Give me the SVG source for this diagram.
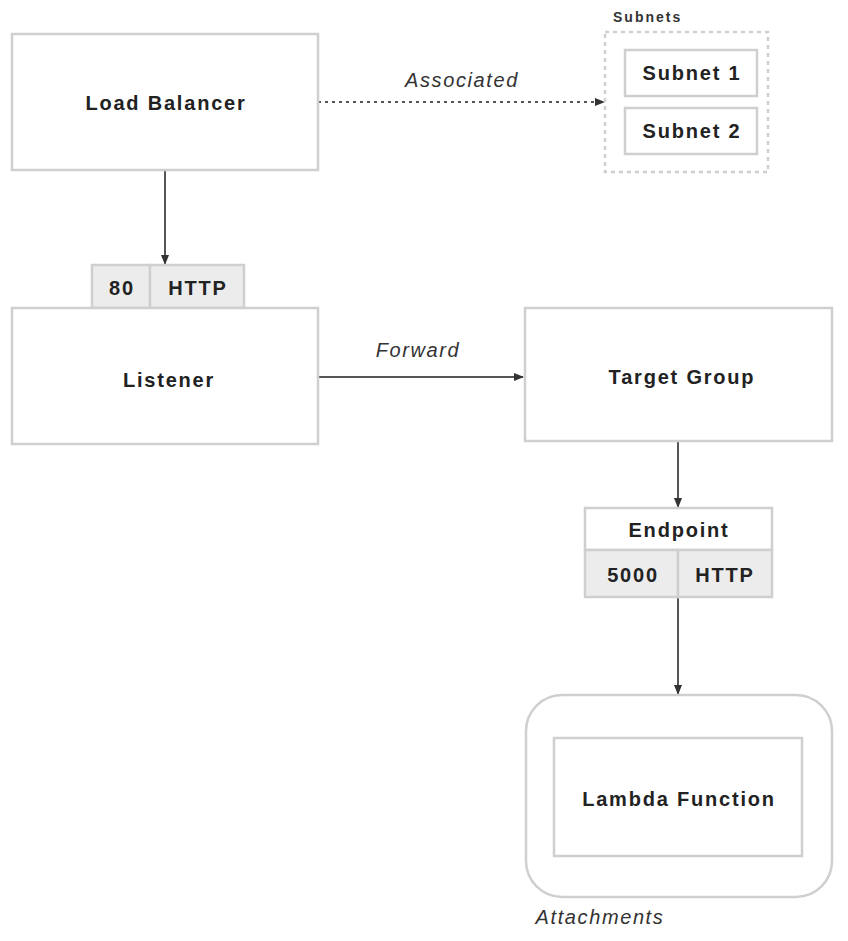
<svg xmlns="http://www.w3.org/2000/svg" width="848" height="941" viewBox="0 0 848 941">
<defs>
<style>
.box{fill:#fff;stroke:#cfcfcf;stroke-width:2.5}
.cell{fill:#ececec;stroke:#cfcfcf;stroke-width:2.5}
.t{font-family:"Liberation Sans",Arial,sans-serif;font-weight:bold;font-size:20px;letter-spacing:1.8px;fill:#222;text-anchor:middle;dominant-baseline:central}
.it{font-family:"Liberation Sans",Arial,sans-serif;font-style:italic;font-size:20px;letter-spacing:1.6px;fill:#333;text-anchor:middle;dominant-baseline:central}
.ln{stroke:#555;stroke-width:2;fill:none}
</style>
<marker id="ah" viewBox="0 0 10 10" refX="9" refY="5" markerWidth="5" markerHeight="5" orient="auto">
<path d="M0,1 L10,5 L0,9 z" fill="#333"/>
</marker>
</defs>
<rect width="848" height="941" fill="#fff"/>
<g id="connectors">
<line class="ln" x1="318" y1="102" x2="604" y2="102" stroke-dasharray="3,4" marker-end="url(#ah)"/>
<text class="it" x="462" y="80">Associated</text>
<line class="ln" x1="165" y1="170" x2="165" y2="264" marker-end="url(#ah)"/>
<line class="ln" x1="318" y1="377" x2="523" y2="377" marker-end="url(#ah)"/>
<text class="it" x="418" y="350">Forward</text>
<line class="ln" x1="678" y1="441" x2="678" y2="507" marker-end="url(#ah)"/>
<line class="ln" x1="678" y1="597" x2="678" y2="694" marker-end="url(#ah)"/>
</g>
<g id="load-balancer">
<rect class="box" x="12" y="34" width="306" height="136"/>
<text class="t" x="166" y="103">Load Balancer</text>
</g>
<g id="subnets">
<rect x="605" y="32" width="163" height="140" fill="#fff" stroke="#cfcfcf" stroke-width="2.5" stroke-dasharray="4,4"/>
<text x="613" y="22" font-family="Liberation Sans,Arial,sans-serif" font-weight="bold" font-size="14" letter-spacing="2" fill="#333">Subnets</text>
<g id="subnet-1">
<rect class="box" x="625" y="50" width="132" height="46"/>
<text class="t" x="692" y="73">Subnet 1</text>
</g>
<g id="subnet-2">
<rect class="box" x="625" y="108" width="132" height="46"/>
<text class="t" x="692" y="131">Subnet 2</text>
</g>
</g>
<g id="listener">
<rect class="cell" x="92" y="265" width="58" height="43"/>
<rect class="cell" x="150" y="265" width="94" height="43"/>
<text class="t" x="122" y="288">80</text>
<text class="t" x="198" y="288">HTTP</text>
<rect class="box" x="12" y="308" width="306" height="136"/>
<text class="t" x="169" y="380">Listener</text>
</g>
<g id="target-group">
<rect class="box" x="525" y="308" width="307" height="133"/>
<text class="t" x="682" y="377">Target Group</text>
</g>
<g id="endpoint">
<rect class="box" x="585" y="508" width="187" height="42"/>
<text class="t" x="679" y="530">Endpoint</text>
<rect class="cell" x="585" y="550" width="93" height="47"/>
<rect class="cell" x="678" y="550" width="94" height="47"/>
<text class="t" x="633" y="575">5000</text>
<text class="t" x="725" y="575">HTTP</text>
</g>
<g id="attachments">
<rect class="box" x="526" y="695" width="306" height="202" rx="36"/>
<text class="it" x="600" y="917">Attachments</text>
<g id="lambda-function">
<rect class="box" x="554" y="738" width="248" height="118"/>
<text class="t" x="679" y="799">Lambda Function</text>
</g>
</g>
</svg>
